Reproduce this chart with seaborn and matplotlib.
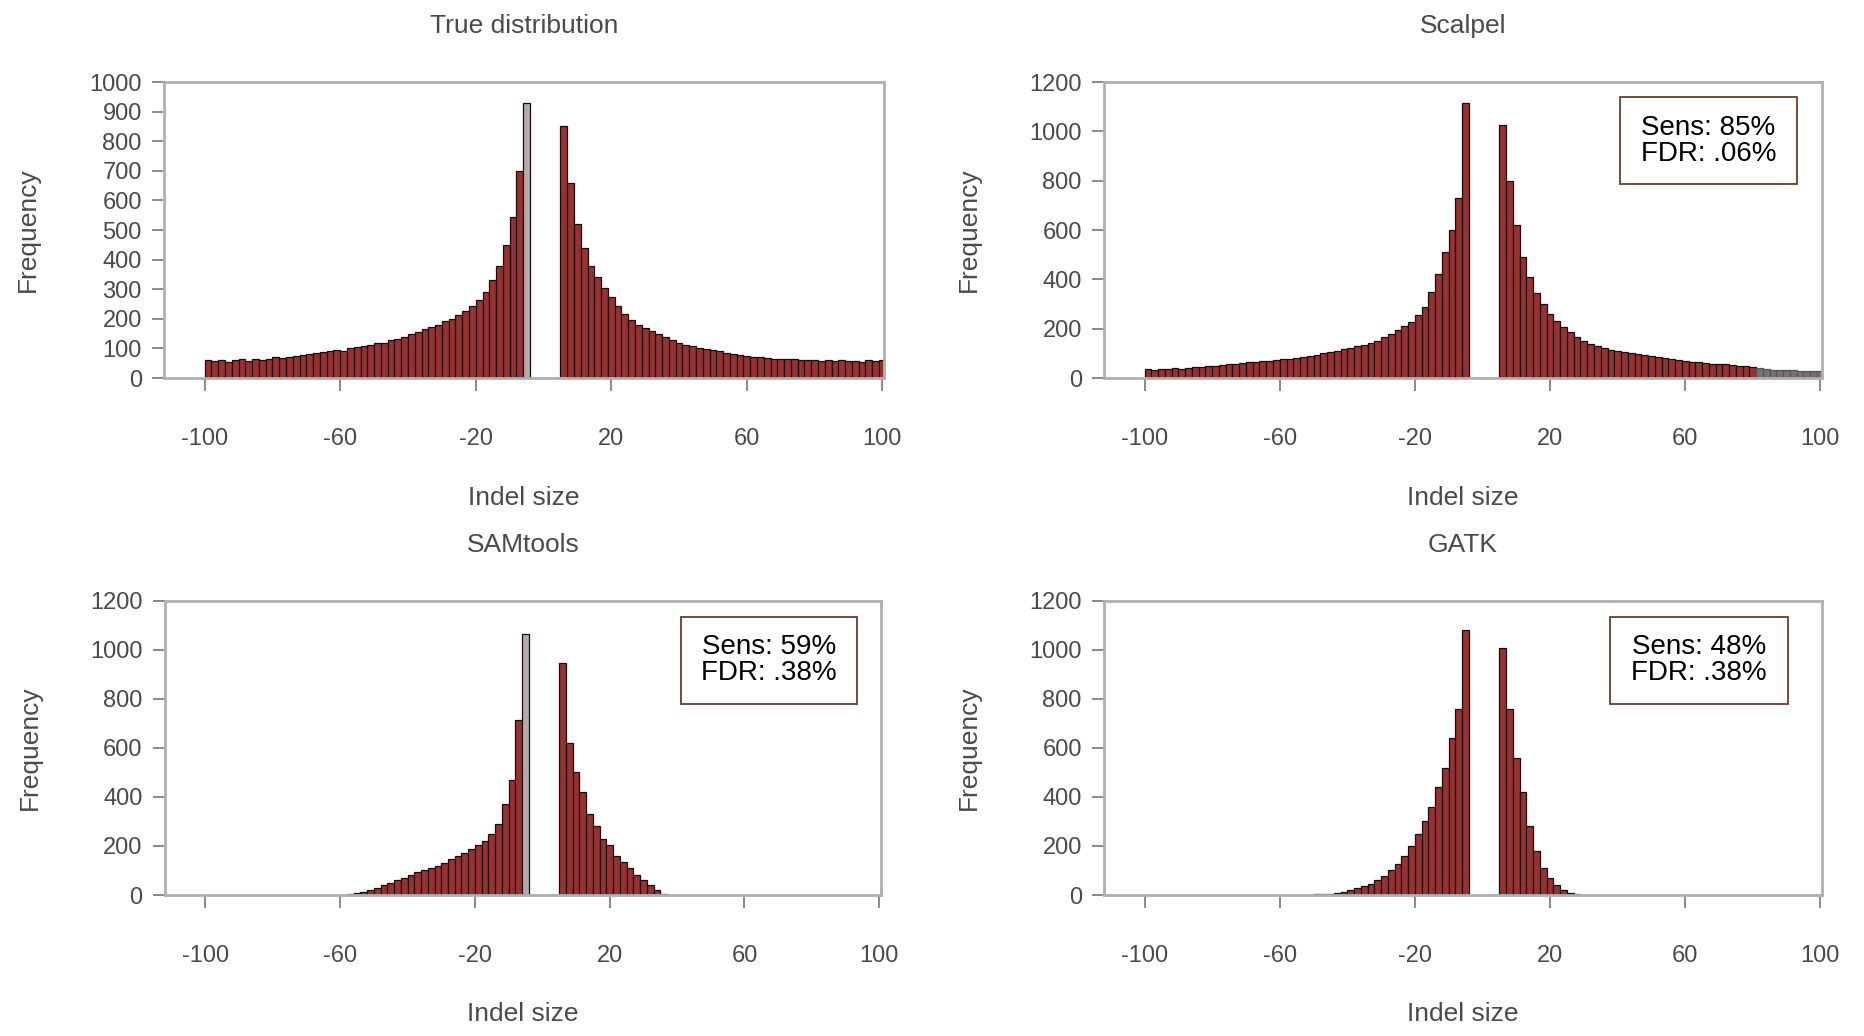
import matplotlib
matplotlib.use("Agg")
import matplotlib.pyplot as plt
import seaborn as sns
from matplotlib.patches import Rectangle

# 2-bp bins: deletions -100..-4, insertions 5..101 (no bin around 0)
del_edges = list(range(-100, -3, 2))
ins_edges = list(range(5, 102, 2))
del_centers = list(range(-99, -4, 2))
ins_centers = list(range(6, 101, 2))

x_ticks = [-100, -60, -20, 20, 60, 100]

# counts per bin (left to right)
true_del = [60, 58, 62, 55, 60, 63, 58, 65, 62, 66, 70, 68, 72, 75, 78, 80,
            85, 88, 90, 95, 92, 100, 105, 108, 112, 118, 120, 128, 132, 140,
            148, 155, 165, 172, 180, 192, 200, 212, 228, 245, 265, 290, 330,
            380, 450, 545, 700, 930]
true_ins = [850, 660, 520, 440, 380, 340, 305, 275, 245, 215, 195, 180, 168,
            158, 148, 138, 128, 120, 112, 108, 102, 98, 95, 90, 85, 82, 78, 76,
            72, 70, 68, 66, 65, 63, 64, 62, 60, 62, 58, 60, 57, 60, 56, 58, 55,
            60, 57, 62]

scalpel_del = [35, 33, 36, 38, 40, 38, 42, 44, 45, 48, 50, 52, 56, 58, 60, 63,
               66, 68, 70, 74, 76, 78, 82, 86, 90, 95, 100, 105, 110, 116, 122,
               128, 135, 143, 152, 165, 180, 195, 210, 228, 255, 290, 350, 420,
               510, 600, 730, 1115]
scalpel_ins = [1025, 800, 620, 490, 410, 345, 300, 260, 232, 205, 185, 165,
               150, 140, 130, 122, 115, 110, 105, 100, 98, 95, 90, 86, 82, 78,
               74, 70, 66, 63, 60, 58, 55, 55, 52, 50, 48, 45, 40, 36, 34, 33,
               32, 31, 30, 30, 29, 28]

samtools_del = [0] * 21 + [3, 7, 13, 20, 30, 40, 50, 60, 70, 80, 92, 100, 110,
                           120, 132, 145, 158, 172, 188, 205, 222, 248, 290,
                           370, 470, 715, 1065]
samtools_ins = [945, 620, 500, 420, 330, 280, 230, 205, 160, 135, 110, 80, 60,
                42, 20, 6] + [0] * 32

gatk_del = [0] * 22 + [1, 1, 2, 3, 4, 6, 9, 14, 20, 27, 36, 46, 60, 78, 100,
                       125, 160, 200, 250, 300, 360, 440, 520, 640, 760, 1080]
gatk_ins = [1010, 760, 560, 420, 280, 180, 110, 70, 40, 22, 10, 4, 1] + [0] * 35

BAR = "#973232"
EDGE = "#1e0808"
TXT = "#4a4a4a"

sns.set_style("ticks")
plt.rcParams["font.family"] = ["Liberation Sans", "DejaVu Sans"]
plt.rcParams["axes.unicode_minus"] = False

fig = plt.figure(figsize=(18.64, 10.36), dpi=100)

# title, del counts, ins counts, ymax, ystep, annotation, light peak, gray tail from
panels = [
    ("True distribution", true_del, true_ins, 1000, 100, None, True, None,
     [0.0880, 0.6351, 0.3863, 0.2857], None),
    ("Scalpel", scalpel_del, scalpel_ins, 1200, 200, "Sens: 85%\nFDR: .06%",
     False, 81, [0.5923, 0.6351, 0.3852, 0.2857], (0.719, 0.654, 0.246, 0.295)),
    ("SAMtools", samtools_del, samtools_ins, 1200, 200, "Sens: 59%\nFDR: .38%",
     True, None, [0.0885, 0.1361, 0.3841, 0.2838], (0.721, 0.650, 0.245, 0.296)),
    ("GATK", gatk_del, gatk_ins, 1200, 200, "Sens: 48%\nFDR: .38%",
     False, None, [0.5923, 0.1361, 0.3852, 0.2838], (0.705, 0.650, 0.247, 0.296)),
]

for title, dels, ins, ymax, ystep, note, light_peak, tail_from, pos, box in panels:
    ax = fig.add_axes(pos)
    sns.histplot(x=del_centers + ins_centers, weights=dels + ins,
                 bins=del_edges + ins_edges, color=BAR, edgecolor=EDGE,
                 linewidth=0.9, alpha=1, ax=ax)
    for p in ax.patches:
        if light_peak and p.get_x() == -6:
            p.set_facecolor("#b5abab")
        if tail_from is not None and p.get_x() >= tail_from:
            p.set_facecolor("#7a7272")
            p.set_edgecolor("#555555")

    ax.set_xlim(-112, 100.5)
    ax.set_ylim(0, ymax)
    ax.set_xticks(x_ticks)
    ax.set_yticks(list(range(0, ymax + 1, ystep)))
    for s in ax.spines.values():
        s.set_visible(True)
        s.set_color("#b0b0b0")
        s.set_linewidth(2)
    ax.tick_params(axis="both", direction="out", length=9, width=1.2,
                   color="#777777", labelsize=17, labelcolor=TXT)
    ax.tick_params(axis="x", pad=27)
    ax.tick_params(axis="y", pad=7)

    ax.set_title(title, fontsize=19, color=TXT, pad=35)
    ax.set_xlabel("Indel size", fontsize=19, color=TXT)
    ax.xaxis.set_label_coords(0.5, -0.365)
    ax.set_ylabel("Frequency", fontsize=19, color=TXT)
    ax.yaxis.set_label_coords(-0.172, 0.5)

    if note is not None:
        bx, by, bw, bh = box
        ax.add_patch(Rectangle((bx, by), bw, bh, transform=ax.transAxes,
                               facecolor="white", edgecolor="#6e3a28",
                               linewidth=1.3, zorder=5))
        ax.text(bx + bw / 2, by + bh / 2, note, transform=ax.transAxes,
                ha="center", va="center", fontsize=20, color="black",
                linespacing=1.0, zorder=6)

fig.savefig("out.png", dpi=100)
